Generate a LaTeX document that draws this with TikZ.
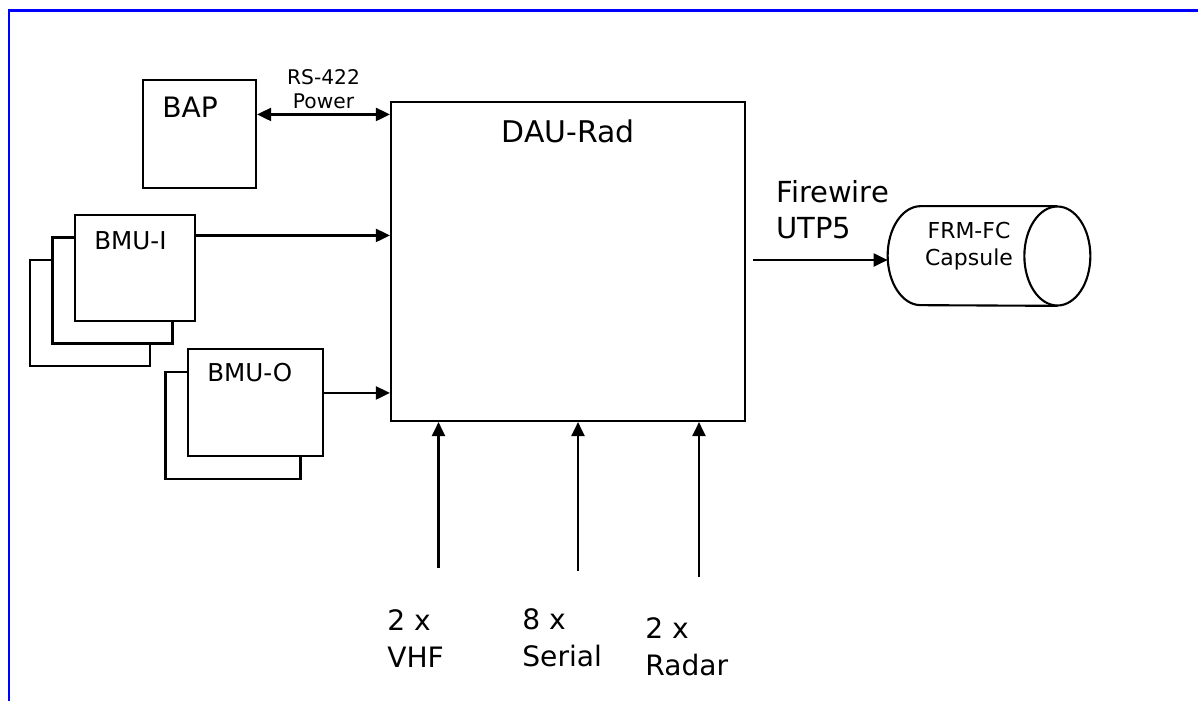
\documentclass[tikz,border=0pt]{standalone}
\usepackage{fontspec}
\setmainfont{DejaVu Sans}
\usepackage{tikz}
\usetikzlibrary{shapes.geometric, arrows.meta, positioning, backgrounds, calc}
\definecolor{frameblue}{RGB}{0, 0, 255}

\begin{document}
\begin{tikzpicture}[
    unit/.style={draw, line width=1.2pt, fill=white, minimum width=2.4cm,
                 minimum height=2.12cm, inner sep=0pt},
    lbl/.style={inner sep=0pt},
    arr/.style={-{Triangle[length=0.28cm, width=0.26cm]}, line width=1.2pt},
    dblarr/.style={{Triangle[length=0.28cm, width=0.26cm]}-{Triangle[length=0.28cm, width=0.26cm]},
                   line width=1.2pt}
]
    \useasboundingbox (0,0) rectangle (23.96,-14.02);
    \draw[frameblue, line width=1.3pt] (0.18,-14.02) -- (0.18,-0.21) -- (23.96,-0.21);

    \node[unit, minimum width=2.26cm, minimum height=2.16cm] (bap) at (3.99,-2.68) {};
    \node[lbl, below right=0.36cm and 0.4cm of bap.north west,
          font=\fontsize{16}{19}\selectfont] (bap-t) {BAP};

    \node[unit, minimum width=7.08cm, minimum height=6.38cm] (dau) at (11.36,-5.23) {};
    \node[lbl, below=0.36cm of dau.north, font=\fontsize{17}{20}\selectfont] (dau-t) {DAU-Rad};

    \node[unit] (bmui) at (2.70,-5.36) {};
    \node[lbl, below right=0.34cm and 0.4cm of bmui.north west,
          font=\fontsize{14}{17}\selectfont] (bmui-t) {BMU-I};
    \node[unit, minimum width=2.7cm, minimum height=2.14cm] (bmuo) at (5.11,-8.05) {};
    \node[lbl, below right=0.3cm and 0.4cm of bmuo.north west,
          font=\fontsize{14}{17}\selectfont] (bmuo-t) {BMU-O};
    \begin{scope}[on background layer]
        \node[unit] (bmui-3) at ([shift={(-0.9,-0.9)}]bmui.center) {};
        \node[unit] (bmui-2) at ([shift={(-0.45,-0.45)}]bmui.center) {};
        \node[unit, minimum width=2.7cm, minimum height=2.14cm] (bmuo-2)
            at ([shift={(-0.45,-0.46)}]bmuo.center) {};
    \end{scope}

    \node[minimum width=4.04cm, minimum height=1.98cm, inner sep=0pt] (cap) at (19.78,-5.12) {};
    \draw[line width=1.2pt] ([xshift=-0.66cm]cap.north east) -- ([xshift=0.66cm]cap.north west)
        arc[start angle=90, end angle=270, x radius=0.66cm, y radius=0.99cm]
        -- ([xshift=-0.66cm]cap.south east);
    \draw[line width=1.2pt] ([xshift=-0.66cm]cap.east) ellipse[x radius=0.66cm, y radius=0.99cm];
    \node[lbl, align=center, font=\fontsize{12.5}{15.3}\selectfont] (cap-t)
        at (19.38,-4.92) {FRM-FC\\Capsule};

    \coordinate (bap-out) at ([yshift=-0.71cm]bap.north east);
    \draw[dblarr] (bap-out) -- node[lbl, above=2.5pt, align=center,
        font=\fontsize{11.5}{13.6}\selectfont] (rs-t) {RS-422\\Power} (bap-out -| dau.west);
    \coordinate (bmui-out) at ([yshift=-0.43cm]bmui.north east);
    \draw[arr] (bmui-out) -- (bmui-out -| dau.west);
    \coordinate (bmuo-out) at ([yshift=-0.9cm]bmuo.north east);
    \draw[arr] (bmuo-out) -- (bmuo-out -| dau.west);

    \coordinate (fw-out) at ([xshift=0.14cm, yshift=-0.08cm]dau.east |- cap.west);
    \draw[arr] (fw-out) -- (fw-out -| cap.west);
    \node[lbl, align=left, above right=0.42cm and 0.46cm of fw-out,
          font=\fontsize{16.5}{20.4}\selectfont] (fw-t) {Firewire\\UTP5};

    \coordinate (vhf-in) at (8.77,-11.36);
    \coordinate (ser-in) at (11.56,-11.42);
    \coordinate (rad-in) at (13.98,-11.54);
    \draw[arr] (vhf-in) -- (vhf-in |- dau.south);
    \draw[arr] (ser-in) -- (ser-in |- dau.south);
    \draw[arr] (rad-in) -- (rad-in |- dau.south);
    \node[lbl, align=left, anchor=north west, font=\fontsize{16}{21}\selectfont]
        (vhf-t) at (7.74,-12.18) {2 x\\VHF};
    \node[lbl, align=left, anchor=north west, font=\fontsize{16}{21}\selectfont]
        (ser-t) at (10.44,-12.16) {8 x\\Serial};
    \node[lbl, align=left, anchor=north west, font=\fontsize{16}{21}\selectfont]
        (rad-t) at (12.90,-12.34) {2 x\\Radar};
\end{tikzpicture}
\end{document}
